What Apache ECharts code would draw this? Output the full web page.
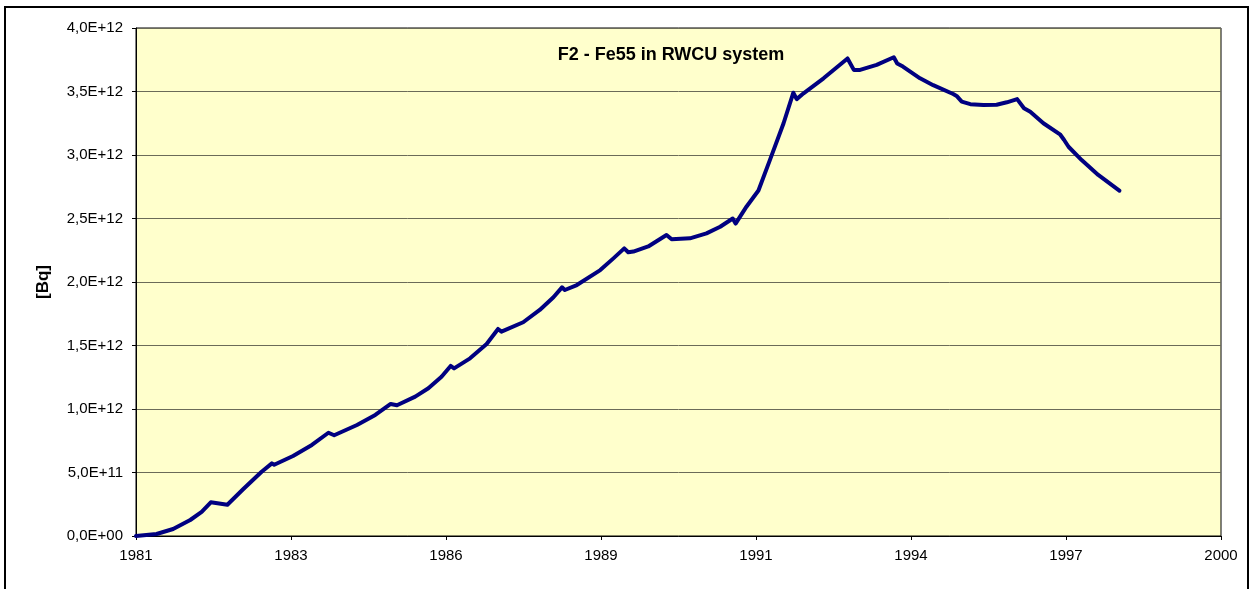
<!DOCTYPE html>
<html>
<head>
<meta charset="utf-8">
<script src="https://cdn.jsdelivr.net/npm/echarts@6/dist/echarts.min.js"></script>
<style>
  html, body { margin: 0; padding: 0; background: #fff; }
  #chart { width: 1258px; height: 589px; }
</style>
</head>
<body>
<div id="chart"></div>
<script>
    // x tick labels (Excel date axis, 7 equal steps from 1981 to 2000)
    var tickLabels = ['1981', '1983', '1986', '1989', '1991', '1994', '1997', '2000'];
    var yearStart = 1981, yearEnd = 2000;

    // decimal year of each point
    var years = [
        1981.00, 1981.36, 1981.65, 1981.95, 1982.15, 1982.31, 1982.60, 1982.88,
        1983.20, 1983.38, 1983.42, 1983.75, 1984.08, 1984.37, 1984.47, 1984.87,
        1985.19, 1985.46, 1985.57, 1985.89, 1986.12, 1986.35, 1986.51, 1986.57,
        1986.85, 1987.14, 1987.34, 1987.40, 1987.78, 1988.07, 1988.31, 1988.46,
        1988.51, 1988.72, 1989.13, 1989.36, 1989.55, 1989.62, 1989.71, 1989.97,
        1990.29, 1990.38, 1990.70, 1990.99, 1991.23, 1991.45, 1991.50, 1991.69,
        1991.90, 1992.10, 1992.34, 1992.51, 1992.57, 1992.69, 1993.04, 1993.46,
        1993.57, 1993.68, 1993.97, 1994.27, 1994.33, 1994.43, 1994.73, 1994.96,
        1995.31, 1995.37, 1995.46, 1995.61, 1995.84, 1996.07, 1996.25, 1996.43,
        1996.55, 1996.66, 1996.89, 1997.18, 1997.25, 1997.33, 1997.56, 1997.85,
        1998.22
    ];
    // Fe55 activity, in units of 1E+12 Bq
    var fe55 = [
        0.000, 0.016, 0.055, 0.126, 0.190, 0.265, 0.246, 0.370,
        0.506, 0.572, 0.561, 0.630, 0.717, 0.813, 0.793, 0.874,
        0.953, 1.040, 1.030, 1.097, 1.163, 1.254, 1.339, 1.320,
        1.399, 1.512, 1.630, 1.609, 1.683, 1.780, 1.880, 1.958,
        1.937, 1.976, 2.094, 2.186, 2.265, 2.234, 2.240, 2.280,
        2.370, 2.336, 2.344, 2.383, 2.435, 2.500, 2.460, 2.593,
        2.720, 2.960, 3.250, 3.490, 3.440, 3.486, 3.604, 3.760,
        3.670, 3.670, 3.710, 3.770, 3.720, 3.696, 3.604, 3.550,
        3.480, 3.465, 3.420, 3.400, 3.394, 3.396, 3.415, 3.440,
        3.368, 3.340, 3.250, 3.163, 3.120, 3.065, 2.960, 2.843,
        2.719
    ];

    var steps = tickLabels.length - 1;
    var lineData = [];
    for (var i = 0; i < years.length; i++) {
        // position on the 0..7 tick scale
        lineData.push([(years[i] - yearStart) * steps / (yearEnd - yearStart), fe55[i] * 1e12]);
    }

    function expFormat(v) {
        if (v === 0) return '0,0E+00';
        var e = Math.floor(Math.log10(v) + 1e-9);
        var m = v / Math.pow(10, e);
        return m.toFixed(1).replace('.', ',') + 'E+' + (e < 10 ? '0' + e : e);
    }

    var font = 'Liberation Sans, Arial, sans-serif';
    var chart = echarts.init(document.getElementById('chart'));

    var option = {
        backgroundColor: '#ffffff',
        animation: false,
        title: {
            text: 'F2 - Fe55 in RWCU system',
            left: 671,
            top: 46,
            padding: 0,
            textAlign: 'center',
            textStyle: { fontFamily: font, fontSize: 18, fontWeight: 'bold', color: '#000' }
        },
        graphic: [{
            type: 'rect',
            shape: { x: 5, y: 7, width: 1243, height: 600 },
            style: { fill: 'none', stroke: '#000', lineWidth: 2 },
            z: 100
        }],
        grid: {
            left: 136,
            right: 37,
            top: 28,
            bottom: 53,
            show: true,
            backgroundColor: '#FFFFCC',
            borderColor: '#000',
            borderWidth: 1
        },
        xAxis: {
            type: 'value',
            min: 0,
            max: steps,
            interval: 1,
            axisLine: { show: true, lineStyle: { color: '#000', width: 1 } },
            axisTick: { show: true, length: 4, lineStyle: { color: '#000' } },
            splitLine: { show: false },
            axisLabel: {
                margin: 12,
                fontFamily: font,
                fontSize: 15,
                color: '#000',
                formatter: function (v) { return tickLabels[Math.round(v)]; }
            }
        },
        yAxis: {
            type: 'value',
            min: 0,
            max: 4e12,
            interval: 0.5e12,
            name: '[Bq]',
            nameLocation: 'middle',
            nameGap: 84,
            nameRotate: 90,
            nameTextStyle: { fontFamily: font, fontSize: 17, fontWeight: 'bold', color: '#000' },
            axisLine: { show: true, lineStyle: { color: '#000', width: 1 } },
            axisTick: { show: true, length: 4, lineStyle: { color: '#000' } },
            splitLine: { show: true, lineStyle: { color: '#6b6b58', width: 1 } },
            axisLabel: {
                margin: 13,
                fontFamily: font,
                fontSize: 15,
                color: '#000',
                formatter: expFormat
            }
        },
        series: [{
            name: 'Fe55',
            type: 'line',
            data: lineData,
            showSymbol: false,
            smooth: false,
            lineStyle: { color: '#000080', width: 4, join: 'round', cap: 'round' }
        }]
    };

    chart.setOption(option);
</script>
</body>
</html>
